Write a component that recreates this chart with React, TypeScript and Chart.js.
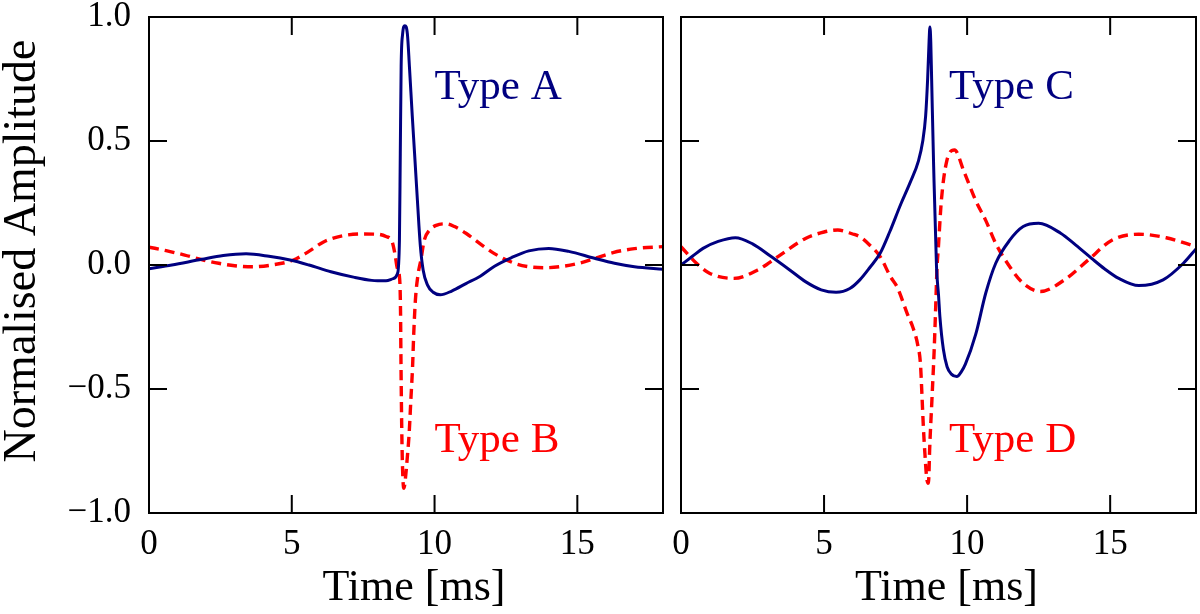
import { useEffect, useRef } from 'react';
import { Chart, registerables } from 'chart.js';

Chart.register(...registerables);

// axis ticks
const xTicks = [0, 5, 10, 15];
const xTickLabels = ['0', '5', '10', '15'];
const yTicks = [-1, -0.5, 0, 0.5, 1];
const yTickLabels = ['\u22121.0', '\u22120.5', '0.0', '0.5', '1.0'];

// Type A (left, solid)
const timeA = [0, 0.8, 1.85, 2.6, 3.4, 4.2, 4.94, 5.6, 6.37, 7.2, 7.8, 8.3, 8.55, 8.7, 8.77, 8.8, 8.83, 8.88, 8.96, 9.05, 9.12, 9.22, 9.3, 9.4, 9.5, 9.6, 9.75, 9.95, 10.2, 10.6, 11.1, 11.6, 12.1, 12.7, 13.3, 14.0, 14.7, 15.6, 16.3, 17.0, 18.0];
const ampA = [-0.015, 0.0, 0.023, 0.038, 0.045, 0.035, 0.02, 0.0, -0.027, -0.05, -0.062, -0.064, -0.055, -0.035, 0.1, 0.45, 0.8, 0.93, 0.965, 0.93, 0.8, 0.6, 0.45, 0.26, 0.08, -0.02, -0.08, -0.11, -0.12, -0.105, -0.075, -0.045, -0.005, 0.03, 0.057, 0.067, 0.055, 0.027, 0.007, -0.007, -0.017];

// Type B (left, dashed)
const timeB = [0, 0.6, 1.25, 1.9, 2.44, 3.0, 3.63, 4.3, 5.06, 5.6, 6.13, 6.8, 7.44, 8.0, 8.3, 8.51, 8.62, 8.69, 8.78, 8.81, 8.82, 8.845, 8.87, 8.9, 8.93, 8.98, 9.05, 9.11, 9.17, 9.23, 9.27, 9.33, 9.42, 9.52, 9.64, 9.82, 10.06, 10.4, 10.7, 11.1, 11.6, 12.08, 12.8, 13.3, 13.87, 14.5, 15.06, 15.7, 16.25, 17.0, 18.0];
const ampB = [0.072, 0.058, 0.04, 0.02, 0.007, -0.003, -0.007, 0.0, 0.02, 0.055, 0.094, 0.118, 0.125, 0.124, 0.115, 0.095, 0.04, -0.01, -0.06, -0.2, -0.34, -0.61, -0.78, -0.88, -0.9, -0.86, -0.77, -0.68, -0.544, -0.41, -0.28, -0.14, -0.04, 0.02, 0.1, 0.14, 0.16, 0.166, 0.155, 0.128, 0.085, 0.047, 0.007, -0.007, -0.011, -0.005, 0.007, 0.03, 0.05, 0.066, 0.074];

// Type C (right, solid)
const timeC = [0, 0.4, 0.77, 1.3, 1.9, 2.5, 3.15, 3.8, 4.35, 4.9, 5.42, 5.9, 6.25, 6.6, 6.96, 7.3, 7.68, 8.0, 8.3, 8.45, 8.55, 8.62, 8.67, 8.7, 8.73, 8.76, 8.83, 8.93, 9.0, 9.05, 9.17, 9.3, 9.45, 9.64, 9.8, 9.94, 10.3, 10.65, 11.0, 11.49, 11.96, 12.5, 13.27, 13.8, 14.35, 14.8, 15.3, 16.0, 16.85, 17.56, 18.0];
const ampC = [0.0, 0.035, 0.067, 0.095, 0.11, 0.085, 0.034, -0.02, -0.067, -0.1, -0.11, -0.095, -0.06, -0.01, 0.047, 0.135, 0.245, 0.33, 0.42, 0.5, 0.6, 0.75, 0.9, 0.96, 0.9, 0.75, 0.4, -0.007, -0.12, -0.21, -0.34, -0.41, -0.44, -0.45, -0.43, -0.4, -0.28, -0.114, 0.007, 0.1, 0.155, 0.168, 0.128, 0.08, 0.027, -0.015, -0.054, -0.083, -0.06, 0.007, 0.065];

// Type D (right, dashed)
const timeD = [0, 0.54, 1.01, 1.85, 2.68, 3.39, 4.35, 5.0, 5.48, 6.0, 6.25, 6.6, 6.96, 7.32, 7.56, 7.92, 8.1, 8.27, 8.37, 8.42, 8.47, 8.53, 8.58, 8.63, 8.66, 8.69, 8.77, 8.85, 8.89, 8.95, 8.99, 9.1, 9.29, 9.56, 9.88, 10.3, 10.65, 11.0, 11.49, 11.96, 12.56, 13.4, 14.23, 15.06, 16.0, 16.96, 18.0];
const ampD = [0.074, 0.007, -0.034, -0.054, -0.02, 0.034, 0.107, 0.133, 0.141, 0.125, 0.114, 0.08, 0.034, -0.047, -0.09, -0.2, -0.25, -0.32, -0.4, -0.52, -0.65, -0.77, -0.85, -0.88, -0.86, -0.746, -0.544, -0.34, -0.21, -0.007, 0.06, 0.26, 0.42, 0.464, 0.38, 0.26, 0.18, 0.087, -0.007, -0.074, -0.107, -0.06, 0.02, 0.1, 0.124, 0.11, 0.074];

// in-plot labels
const leftNotes = ['Type A', 'Type B'];
const rightNotes = ['Type C', 'Type D'];
const leftNoteX = [10.0, 10.0];
const rightNoteX = [9.37, 9.37];
const noteY = [0.67, -0.755];

const NAVY = '#000080';
const RED = '#ff0000';
const SERIF = '"Liberation Serif", "DejaVu Serif", serif';

const toPoints = (xs: number[], ys: number[]) => xs.map((x, i) => ({ x, y: ys[i] }));

// frame, inward ticks on all sides, axis titles and the type labels
const framePlugin = {
  id: 'frame',
  afterDraw(chart: any, _args: any, opts: any) {
    const { ctx, chartArea } = chart;
    const { left, right, top, bottom } = chartArea;
    const xs = chart.scales.x;
    const ys = chart.scales.y;
    ctx.save();
    ctx.strokeStyle = '#000';
    ctx.lineWidth = 2;
    ctx.strokeRect(left, top, right - left, bottom - top);
    ctx.beginPath();
    xs.ticks.forEach((t: any) => {
      const px = xs.getPixelForValue(t.value);
      ctx.moveTo(px, bottom);
      ctx.lineTo(px, bottom - 18);
      ctx.moveTo(px, top);
      ctx.lineTo(px, top + 18);
    });
    ys.ticks.forEach((t: any) => {
      const py = ys.getPixelForValue(t.value);
      ctx.moveTo(left, py);
      ctx.lineTo(left + 18, py);
      ctx.moveTo(right, py);
      ctx.lineTo(right - 18, py);
    });
    ctx.stroke();

    ctx.textBaseline = 'alphabetic';
    ctx.textAlign = 'left';
    ctx.font = `43px ${SERIF}`;
    (opts.notes || []).forEach((n: any) => {
      ctx.fillStyle = n.color;
      ctx.fillText(n.text, xs.getPixelForValue(n.x), ys.getPixelForValue(n.y));
    });

    ctx.fillStyle = '#000';
    ctx.textAlign = 'center';
    ctx.font = `44px ${SERIF}`;
    ctx.fillText(opts.xTitle, (left + right) / 2 + 8, 600);
    if (opts.yTitle) {
      ctx.font = `46px ${SERIF}`;
      ctx.translate(35, (top + bottom) / 2 - 14);
      ctx.rotate(-Math.PI / 2);
      ctx.fillText(opts.yTitle, 0, 0);
    }
    ctx.restore();
  },
};

interface PanelProps {
  solid: { x: number; y: number }[];
  dashed: { x: number; y: number }[];
  notes: { text: string; x: number; y: number; color: string }[];
  showY: boolean;
  axisWidth: number;
  padRight: number;
}

function Panel({ solid, dashed, notes, showY, axisWidth, padRight }: PanelProps) {
  const canvasRef = useRef<HTMLCanvasElement | null>(null);

  useEffect(() => {
    const ctx = canvasRef.current?.getContext('2d');
    if (!ctx) return;

    const chart = new Chart(ctx, {
      type: 'line',
      data: {
        datasets: [
          {
            data: solid,
            borderColor: NAVY,
            borderWidth: 3,
            pointRadius: 0,
            cubicInterpolationMode: 'monotone',
          },
          {
            data: dashed,
            borderColor: RED,
            borderWidth: 3.4,
            borderDash: [10, 6],
            pointRadius: 0,
            cubicInterpolationMode: 'monotone',
          },
        ],
      },
      options: {
        animation: false,
        responsive: true,
        maintainAspectRatio: false,
        layout: { padding: { top: 17, right: padRight, left: 0, bottom: 0 } },
        plugins: {
          legend: { display: false },
          tooltip: { enabled: false },
          frame: {
            notes,
            xTitle: 'Time [ms]',
            yTitle: showY ? 'Normalised Amplitude' : '',
          },
        } as any,
        scales: {
          x: {
            type: 'linear',
            min: 0,
            max: 18,
            grid: { display: false, drawTicks: false },
            border: { display: false },
            afterBuildTicks: (scale: any) => {
              scale.ticks = xTicks.map((value) => ({ value }));
            },
            afterFit: (scale: any) => {
              scale.height = 101;
              scale.paddingLeft = 0;
              scale.paddingRight = 0;
            },
            ticks: {
              padding: 14,
              maxRotation: 0,
              color: '#000',
              font: { family: SERIF, size: 35, lineHeight: 1 },
              callback: (value: any) => xTickLabels[xTicks.indexOf(Number(value))] ?? '',
            },
          },
          y: {
            type: 'linear',
            min: -1,
            max: 1,
            grid: { display: false, drawTicks: false },
            border: { display: false },
            afterBuildTicks: (scale: any) => {
              scale.ticks = yTicks.map((value) => ({ value }));
            },
            afterFit: (scale: any) => {
              scale.width = axisWidth;
              scale.paddingTop = 0;
              scale.paddingBottom = 0;
            },
            ticks: {
              display: showY,
              padding: 18,
              color: '#000',
              font: { family: SERIF, size: 35, lineHeight: 1 },
              callback: (value: any) => yTickLabels[yTicks.indexOf(Number(value))] ?? '',
            },
          },
        },
      },
      plugins: [framePlugin],
    });

    return () => {
      chart.destroy();
    };
  }, [solid, dashed, notes, showY, axisWidth, padRight]);

  return <canvas ref={canvasRef}></canvas>;
}

const leftSolid = toPoints(timeA, ampA);
const leftDashed = toPoints(timeB, ampB);
const rightSolid = toPoints(timeC, ampC);
const rightDashed = toPoints(timeD, ampD);
const leftLabelList = leftNotes.map((text, i) => ({ text, x: leftNoteX[i], y: noteY[i], color: i === 0 ? NAVY : RED }));
const rightLabelList = rightNotes.map((text, i) => ({ text, x: rightNoteX[i], y: noteY[i], color: i === 0 ? NAVY : RED }));

export default function App() {
  return (
    <div style={{ position: 'absolute', left: 0, top: 0, width: 1200, height: 614, background: '#fff' }}>
      <div style={{ position: 'absolute', left: 0, top: 0, width: 672, height: 614 }}>
        <Panel solid={leftSolid} dashed={leftDashed} notes={leftLabelList} showY={true} axisWidth={149} padRight={9} />
      </div>
      <div style={{ position: 'absolute', left: 672, top: 0, width: 528, height: 614 }}>
        <Panel solid={rightSolid} dashed={rightDashed} notes={rightLabelList} showY={false} axisWidth={9} padRight={4} />
      </div>
    </div>
  );
}
